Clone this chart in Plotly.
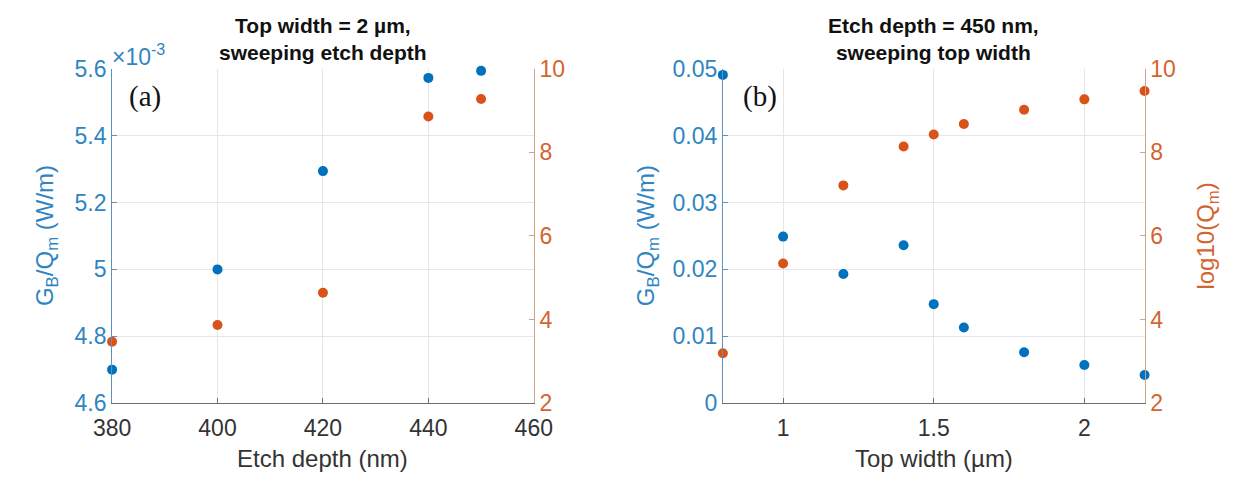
import plotly.graph_objects as go

# Panel (a): top width fixed at 2 um, etch depth swept
etch_depth_nm = [380, 400, 420, 440, 450]
gb_qm_a = [4.70e-3, 5.00e-3, 5.294e-3, 5.573e-3, 5.594e-3]   # W/m
log_qm_a = [3.47, 3.87, 4.64, 8.86, 9.28]

# Panel (b): etch depth fixed at 450 nm, top width swept
top_width_um = [0.8, 1.0, 1.2, 1.4, 1.5, 1.6, 1.8, 2.0, 2.2]
gb_qm_b = [0.0491, 0.0249, 0.0193, 0.0236, 0.0148, 0.0113, 0.0076, 0.0057, 0.0042]  # W/m
log_qm_b = [3.19, 5.34, 7.21, 8.14, 8.43, 8.68, 9.02, 9.27, 9.47]

# Tick definitions
ticks_a_left = [4.6e-3, 4.8e-3, 5.0e-3, 5.2e-3, 5.4e-3, 5.6e-3]
ticks_b_left = [0, 0.01, 0.02, 0.03, 0.04, 0.05]
ticks_right = [2, 4, 6, 8, 10]
ticks_a_x = [380, 400, 420, 440, 460]
ticks_b_x = [1, 1.5, 2]

W, H = 1246, 488
BLUE = "#0072BD"
ORANGE = "#D95319"
BLUE_TXT = "#2F85C2"
ORANGE_TXT = "#D3642F"
BLUE_LINE = "#5E92BD"
ORANGE_LINE = "#CDA489"
GRID = "#E6E6E6"
DARK = "#333333"
SANS = "Liberation Sans, Arial, sans-serif"
SERIF = "Liberation Serif, Times New Roman, serif"
TICK_SIZE = 23
LABEL_SIZE = 24


def px_x(p):
    return p / W


def px_y(p):
    return 1 - p / H


plot_top, plot_bot = 59, 412
a_left, a_right = 96, 531
b_left, b_right = 726, 1161
ydom = [px_y(plot_bot), px_y(plot_top)]

fig = go.Figure()

fig.add_trace(go.Scatter(x=etch_depth_nm, y=gb_qm_a, mode="markers", xaxis="x", yaxis="y",
                         marker=dict(color=BLUE, size=10), cliponaxis=False, showlegend=False))
fig.add_trace(go.Scatter(x=etch_depth_nm, y=log_qm_a, mode="markers", xaxis="x", yaxis="y2",
                         marker=dict(color=ORANGE, size=10), cliponaxis=False, showlegend=False))
fig.add_trace(go.Scatter(x=top_width_um, y=gb_qm_b, mode="markers", xaxis="x2", yaxis="y3",
                         marker=dict(color=BLUE, size=10), cliponaxis=False, showlegend=False))
fig.add_trace(go.Scatter(x=top_width_um, y=log_qm_b, mode="markers", xaxis="x2", yaxis="y4",
                         marker=dict(color=ORANGE, size=10), cliponaxis=False, showlegend=False))

xcommon = dict(showgrid=True, gridcolor=GRID, gridwidth=1, zeroline=False, showline=True,
               linecolor="#6E6E6E", linewidth=1, ticks="inside", ticklen=5, tickcolor="#6E6E6E",
               ticklabelstandoff=4,
               tickfont=dict(family=SANS, size=TICK_SIZE, color=DARK))
yleft = dict(showgrid=True, gridcolor=GRID, gridwidth=1, zeroline=False, showline=True,
             linecolor=BLUE_LINE, linewidth=1, ticks="inside", ticklen=5, tickcolor=BLUE_LINE,
             tickfont=dict(family=SANS, size=TICK_SIZE, color=BLUE_TXT), domain=ydom)
yright = dict(showgrid=False, zeroline=False, showline=True, side="right",
              linecolor=ORANGE_LINE, linewidth=1, ticks="inside", ticklen=5, tickcolor=ORANGE_LINE,
              tickfont=dict(family=SANS, size=TICK_SIZE, color=ORANGE_TXT),
              range=[2, 10], tickvals=ticks_right, domain=ydom)

fig.update_layout(
    width=W, height=H,
    margin=dict(l=0, r=0, t=0, b=0),
    paper_bgcolor="white", plot_bgcolor="white",
    xaxis=dict(xcommon, domain=[px_x(a_left), px_x(a_right)], range=[380, 460],
               tickvals=ticks_a_x, anchor="y"),
    yaxis=dict(yleft, range=[4.6e-3, 5.6e-3], tickvals=ticks_a_left,
               ticktext=[f"{v * 1e3:g}" for v in ticks_a_left], anchor="x"),
    yaxis2=dict(yright, overlaying="y", anchor="x"),
    xaxis2=dict(xcommon, domain=[px_x(b_left), px_x(b_right)], range=[0.8, 2.2],
                tickvals=ticks_b_x, anchor="y3"),
    yaxis3=dict(yleft, range=[0, 0.05], tickvals=ticks_b_left,
                ticktext=[f"{v:g}" for v in ticks_b_left], anchor="x2"),
    yaxis4=dict(yright, overlaying="y3", anchor="x2"),
)

annotations = [
    # panel titles
    dict(x=px_x((a_left + a_right) / 2), y=px_y(27), text="<b>Top width = 2 µm,<br>sweeping etch depth</b>",
         font=dict(family=SANS, size=21, color="#111111")),
    dict(x=px_x((b_left + b_right) / 2), y=px_y(27), text="<b>Etch depth = 450 nm,<br>sweeping top width</b>",
         font=dict(family=SANS, size=21, color="#111111")),
    # panel tags
    dict(x=px_x(130), y=px_y(88), text="(a)", font=dict(family=SERIF, size=29, color="#111111")),
    dict(x=px_x(764), y=px_y(88), text="(b)", font=dict(family=SERIF, size=29, color="#111111")),
    # exponent for panel (a) left axis
    dict(x=px_x(94), y=px_y(44), xanchor="left", text="×10<sup>-3</sup>",
         font=dict(family=SANS, size=23, color=BLUE_TXT)),
    # x-axis titles
    dict(x=px_x((a_left + a_right) / 2), y=px_y(471), text="Etch depth (nm)",
         font=dict(family=SANS, size=LABEL_SIZE, color=DARK)),
    dict(x=px_x((b_left + b_right) / 2), y=px_y(471), text="Top width (µm)",
         font=dict(family=SANS, size=LABEL_SIZE, color=DARK)),
    # y-axis titles
    dict(x=px_x(29), y=px_y((plot_top + plot_bot) / 2), textangle=-90,
         text="G<sub>B</sub>/Q<sub>m</sub> (W/m)", font=dict(family=SANS, size=LABEL_SIZE, color=BLUE_TXT)),
    dict(x=px_x(649), y=px_y((plot_top + plot_bot) / 2), textangle=-90,
         text="G<sub>B</sub>/Q<sub>m</sub> (W/m)", font=dict(family=SANS, size=LABEL_SIZE, color=BLUE_TXT)),
    dict(x=px_x(1226), y=px_y((plot_top + plot_bot) / 2), textangle=-90,
         text="log10(Q<sub>m</sub>)", font=dict(family=SANS, size=LABEL_SIZE, color=ORANGE_TXT)),
]
for a in annotations:
    a.update(xref="paper", yref="paper", showarrow=False)
    a.setdefault("xanchor", "center")
    a.setdefault("yanchor", "middle")
fig.update_layout(annotations=annotations)

fig.write_html("out.html")
